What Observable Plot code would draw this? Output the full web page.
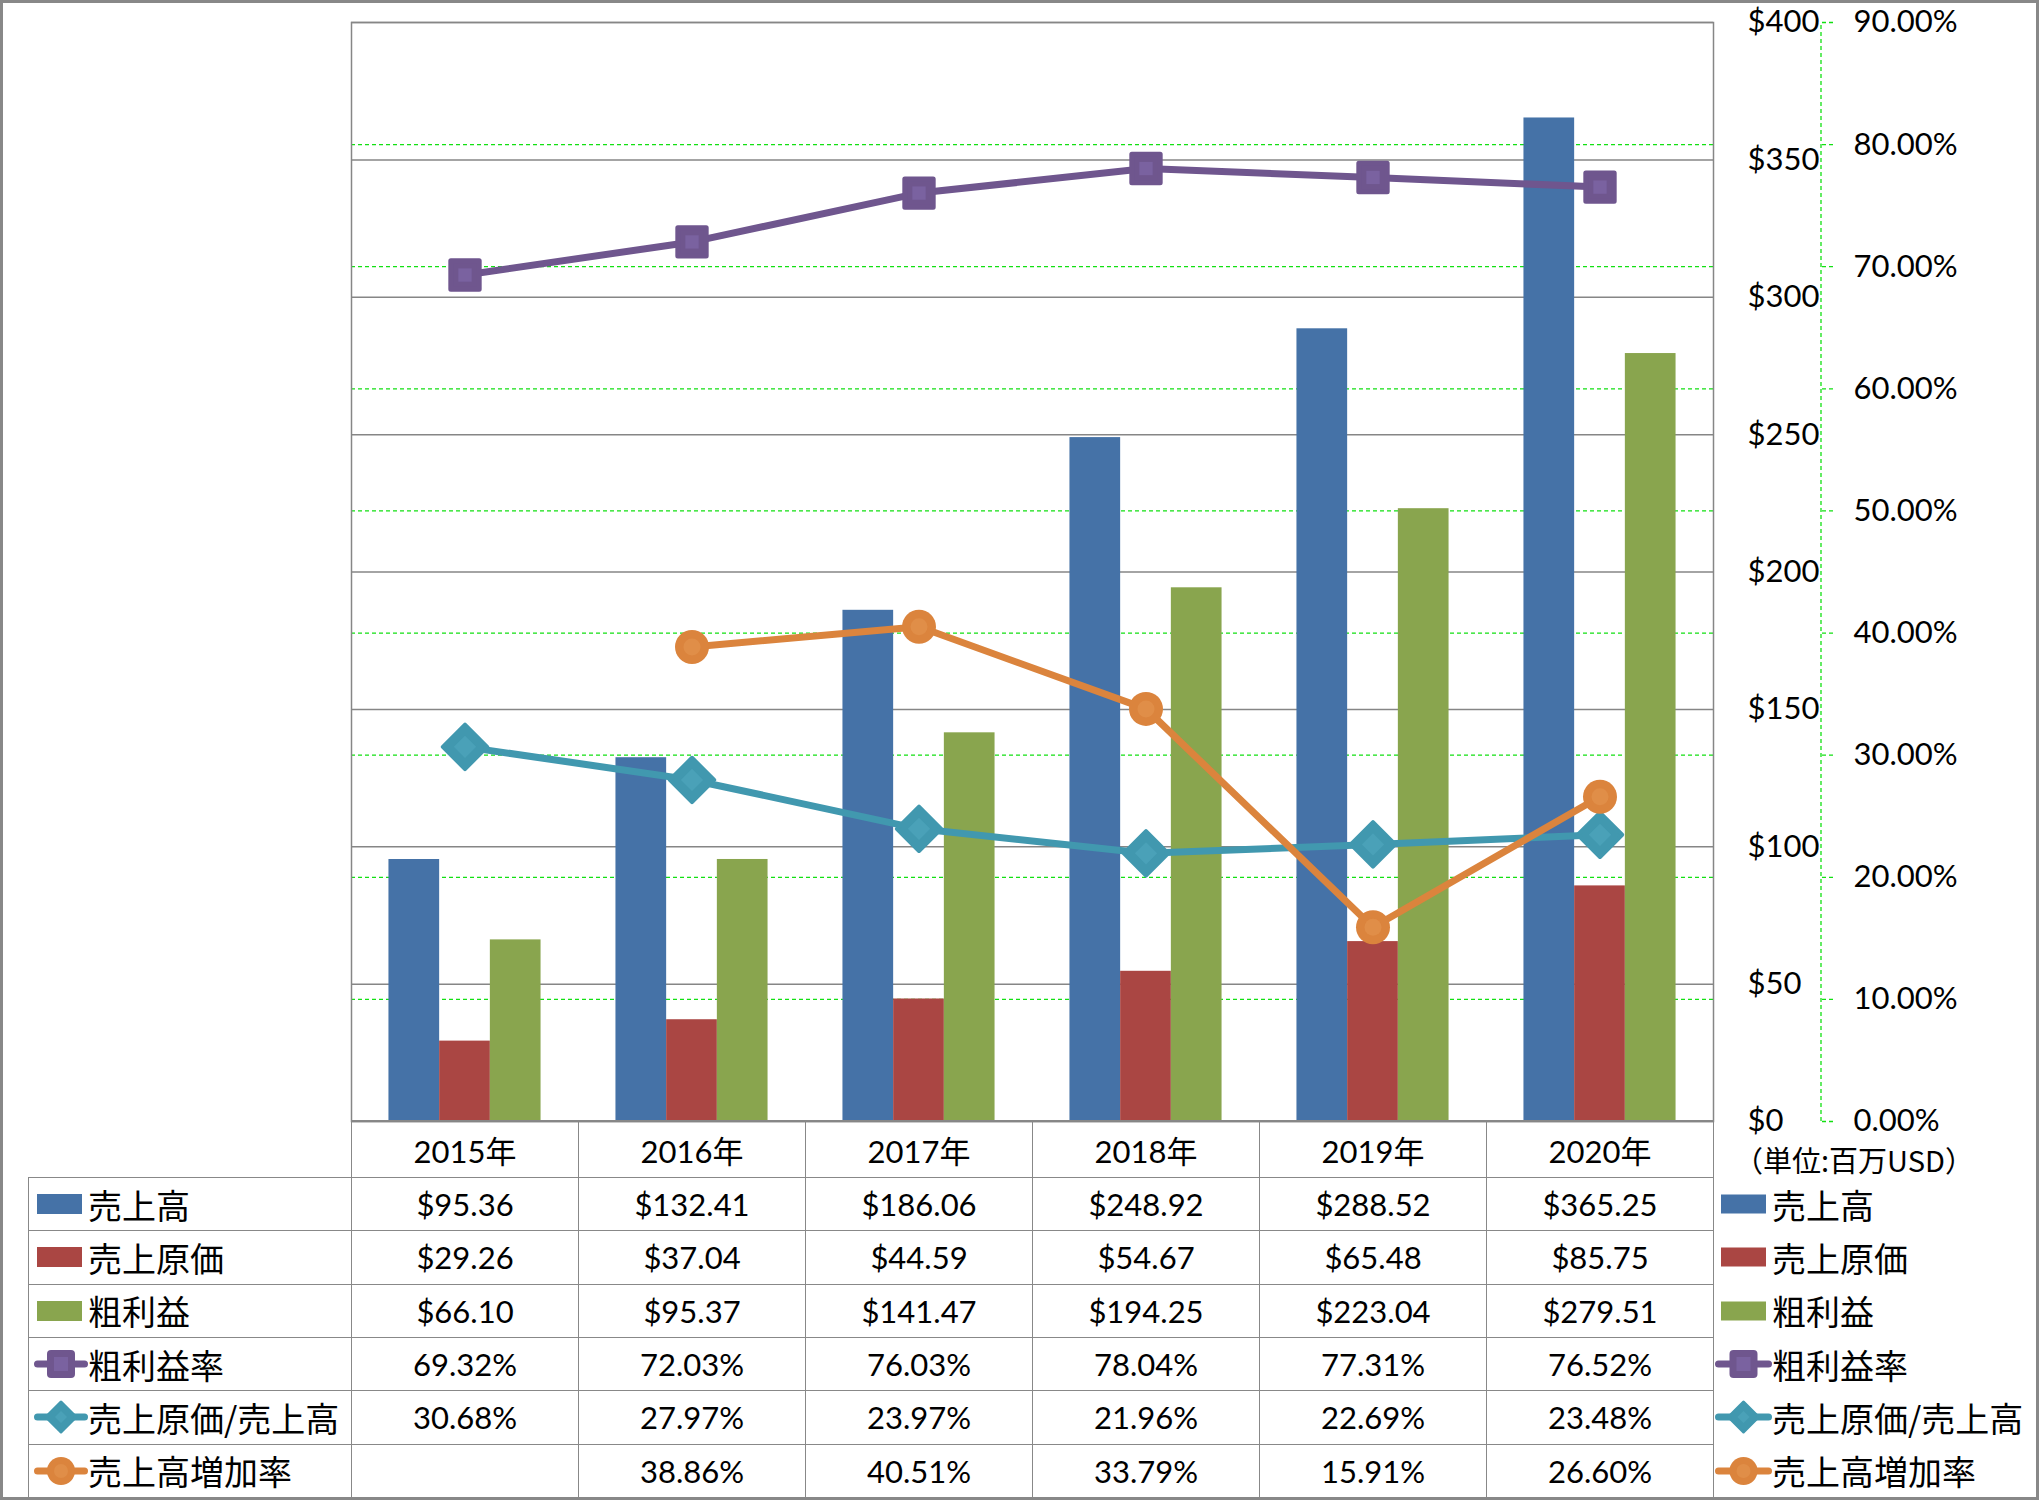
<!DOCTYPE html>
<html>
<head>
<meta charset="utf-8">
<script src="https://cdn.jsdelivr.net/npm/d3@7"></script>
<script src="https://cdn.jsdelivr.net/npm/@observablehq/plot@0.6"></script>
<style>
html, body { margin: 0; padding: 0; background: #fff; }
#wrap { position: relative; width: 2039px; height: 1500px; overflow: hidden; background: #fff;
  font-family: Lato, "Noto Sans CJK JP", sans-serif; color: #000; }
#chart { position: absolute; left: 0; top: 0; }
#frame { position: absolute; left: 0; top: 0; right: 0; bottom: 0; border: 3px solid #888;
  box-sizing: border-box; pointer-events: none; }
#tbl { position: absolute; left: 28px; top: 1120px; border-collapse: collapse; table-layout: fixed; }
#tbl td { padding: 0; border: 1.5px solid #888; text-align: center; vertical-align: middle;
  font-size: 31px; white-space: nowrap; font-family: Lato, "Noto Sans CJK JP", sans-serif; }
#tbl tr.hd { height: 57px; }
#tbl tr.rw { height: 53.33px; }
#tbl td.blank { border: none; }
#tbl td.leg { border-top: none; border-bottom: none; border-right: none; text-align: left; }
#tbl td.lab { text-align: left; }
.labbox { display: flex; align-items: center; font-family: "Noto Sans CJK JP", sans-serif; font-size: 34px; }
.labbox svg { flex: none; display: block; }
#tbl td.unit { border-top: none; border-bottom: none; border-right: none; text-align: left;
  vertical-align: bottom; font-family: "Noto Sans CJK JP", sans-serif; font-size: 29px; line-height: 38px;
  padding-left: 20px; }
</style>
</head>
<body>
<div id="wrap">
  <div id="chart"></div>
  <table id="tbl"></table>
  <div id="frame"></div>
</div>
<script>
// ---------- data ----------
const years = ["2015年", "2016年", "2017年", "2018年", "2019年", "2020年"];
const sales = [95.36, 132.41, 186.06, 248.92, 288.52, 365.25];          // 売上高
const costOfSales = [29.26, 37.04, 44.59, 54.67, 65.48, 85.75];          // 売上原価
const grossProfit = [66.10, 95.37, 141.47, 194.25, 223.04, 279.51];     // 粗利益
const grossMargin = [69.32, 72.03, 76.03, 78.04, 77.31, 76.52];         // 粗利益率 (%)
const costRatio = [30.68, 27.97, 23.97, 21.96, 22.69, 23.48];           // 売上原価/売上高 (%)
const salesGrowth = [null, 38.86, 40.51, 33.79, 15.91, 26.60];          // 売上高増加率 (%)
const dollarTicks = [0, 50, 100, 150, 200, 250, 300, 350, 400];
const pctTicks = [0, 10, 20, 30, 40, 50, 60, 70, 80, 90];
const seriesNames = ["売上高", "売上原価", "粗利益", "粗利益率", "売上原価/売上高", "売上高増加率"];
const unitLabel = "（単位:百万USD）";

// ---------- styles ----------
const C = {
  blue: "#4572A7", red: "#AA4643", green: "#89A54E",
  purple: "#6F568E", purpleIn: "#7A62A0",
  teal: "#4198AF", tealIn: "#4AA1B8",
  orange: "#DB843D", orangeIn: "#E08E48",
  grid: "#868686", lime: "#12E012"
};
const K = 400 / 90; // percent -> dollar-axis units (90% aligns with $400)

const rows = years.map((year, i) => ({
  year, sales: sales[i], cost: costOfSales[i], gross: grossProfit[i],
  gm: grossMargin[i], cr: costRatio[i], sg: salesGrowth[i]
}));

const W = 2039, H = 1135;
const mL = 351, mR = W - 1713, mT = 22, mB = H - 1121;
const BAND = (W - mL - mR) / years.length;
const BW = 50.7, GAP = (BAND - 3 * BW) / 2;
const LW = 7;

const marks = [
  Plot.ruleY(dollarTicks, {stroke: C.grid, strokeWidth: 1.5}),
  Plot.ruleY(pctTicks.slice(1, 9).map(p => p * K), {stroke: C.lime, strokeWidth: 1.3, strokeDasharray: "4,3"}),
  Plot.frame({stroke: C.grid, strokeWidth: 1.5}),
  Plot.barY(rows, {x: "year", y: "sales", fill: C.blue, insetLeft: GAP, insetRight: BAND - GAP - BW}),
  Plot.barY(rows, {x: "year", y: "cost", fill: C.red, insetLeft: GAP + BW, insetRight: GAP + BW}),
  Plot.barY(rows, {x: "year", y: "gross", fill: C.green, insetLeft: GAP + 2 * BW, insetRight: GAP}),
  Plot.line(rows, {x: "year", y: d => d.gm * K, stroke: C.purple, strokeWidth: LW}),
  Plot.line(rows, {x: "year", y: d => d.cr * K, stroke: C.teal, strokeWidth: LW}),
  Plot.line(rows, {x: "year", y: d => d.sg == null ? undefined : d.sg * K, stroke: C.orange, strokeWidth: LW}),
  Plot.dot(rows, {x: "year", y: d => d.gm * K, symbol: "square", r: 16, fill: C.purple, stroke: C.purple, strokeWidth: 5, strokeLinejoin: "round"}),
  Plot.dot(rows, {x: "year", y: d => d.gm * K, symbol: "square", r: 7.5, fill: C.purpleIn}),
  Plot.dot(rows, {x: "year", y: d => d.cr * K, symbol: "diamond2", r: 20, fill: C.teal, stroke: C.teal, strokeWidth: 4, strokeLinejoin: "round"}),
  Plot.dot(rows, {x: "year", y: d => d.cr * K, symbol: "diamond2", r: 10, fill: C.tealIn}),
  Plot.dot(rows.filter(d => d.sg != null), {x: "year", y: d => d.sg * K, r: 17, fill: C.orange}),
  Plot.dot(rows.filter(d => d.sg != null), {x: "year", y: d => d.sg * K, r: 8.5, fill: C.orangeIn}),
  Plot.axisY(dollarTicks, {anchor: "right", tickSize: 0, tickPadding: 34, textAnchor: "start",
    tickFormat: d => "$" + d, label: null}),
  Plot.axisY(pctTicks.map(p => p * K), {anchor: "right", tickSize: 11, tickPadding: 21, dx: 108,
    stroke: C.lime, strokeWidth: 1.3, strokeDasharray: "4,3", textAnchor: "start",
    tickFormat: d => (d / K).toFixed(2) + "%", label: null})
];

const chart = Plot.plot({
  width: W, height: H,
  marginLeft: mL, marginRight: mR, marginTop: mT, marginBottom: mB,
  x: {type: "band", domain: years, padding: 0, axis: null},
  y: {domain: [0, 400]},
  style: {fontFamily: "Lato, 'Noto Sans CJK JP', sans-serif", fontSize: "31px", color: "#000", background: "transparent", overflow: "visible"},
  marks
});

// percent axis spine
const ys = chart.scale("y");
d3.select(chart).append("line")
  .attr("x1", 1821).attr("x2", 1821)
  .attr("y1", ys.apply(0)).attr("y2", ys.apply(90 * K))
  .attr("stroke", C.lime).attr("stroke-width", 1.3).attr("stroke-dasharray", "4,3");

document.getElementById("chart").appendChild(chart);

// ---------- data table with legend keys ----------
const specs = [
  {kind: "bar", color: C.blue},
  {kind: "bar", color: C.red},
  {kind: "bar", color: C.green},
  {kind: "square", color: C.purple, inner: C.purpleIn},
  {kind: "diamond", color: C.teal, inner: C.tealIn},
  {kind: "circle", color: C.orange, inner: C.orangeIn}
];
const seriesVals = [sales, costOfSales, grossProfit, grossMargin, costRatio, salesGrowth];
const fmt = [v => "$" + v.toFixed(2), v => "$" + v.toFixed(2), v => "$" + v.toFixed(2),
  v => v.toFixed(2) + "%", v => v.toFixed(2) + "%", v => v.toFixed(2) + "%"];

function key(s, w, rectX, rectH) {
  const h = 34, cy = 17, cx = w / 2;
  if (s.kind === "bar")
    return `<svg width="${w}" height="${h}"><rect x="${rectX}" y="${cy - rectH / 2}" width="45" height="${rectH}" fill="${s.color}"/></svg>`;
  let shape = "";
  if (s.kind === "square")
    shape = `<rect x="${cx - 14}" y="${cy - 14}" width="28" height="28" rx="4" fill="${s.color}"/><rect x="${cx - 7}" y="${cy - 7}" width="14" height="14" fill="${s.inner}"/>`;
  else if (s.kind === "diamond")
    shape = `<path d="M${cx},${cy - 15} L${cx + 15},${cy} L${cx},${cy + 15} L${cx - 15},${cy} Z" fill="${s.color}" stroke="${s.color}" stroke-width="3" stroke-linejoin="round"/><path d="M${cx},${cy - 6} L${cx + 6},${cy} L${cx},${cy + 6} L${cx - 6},${cy} Z" fill="${s.inner}"/>`;
  else
    shape = `<circle cx="${cx}" cy="${cy}" r="14" fill="${s.color}"/><circle cx="${cx}" cy="${cy}" r="7" fill="${s.inner}"/>`;
  return `<svg width="${w}" height="${h}"><line x1="3.5" x2="${w - 3.5}" y1="${cy}" y2="${cy}" stroke="${s.color}" stroke-width="7" stroke-linecap="round"/>${shape}</svg>`;
}

let html = `<colgroup><col style="width:323px">` + years.map(() => `<col style="width:${BAND}px">`).join("") + `<col style="width:323px"></colgroup>`;
html += `<tr class="hd"><td class="blank"></td>` + years.map(y => `<td>${y}</td>`).join("") + `<td class="unit">${unitLabel}</td></tr>`;
seriesNames.forEach((name, k) => {
  html += `<tr class="rw"><td class="lab"><div class="labbox" style="padding-left:5px">${key(specs[k], 54, 3, 20)}<span>${name}</span></div></td>`;
  html += seriesVals[k].map(v => `<td>${v == null ? "" : fmt[k](v)}</td>`).join("");
  html += `<td class="leg"><div class="labbox" style="padding-left:1px">${key(specs[k], 57, 6, 19)}<span>${name}</span></div></td></tr>`;
});
document.getElementById("tbl").innerHTML = html;
</script>
</body>
</html>
